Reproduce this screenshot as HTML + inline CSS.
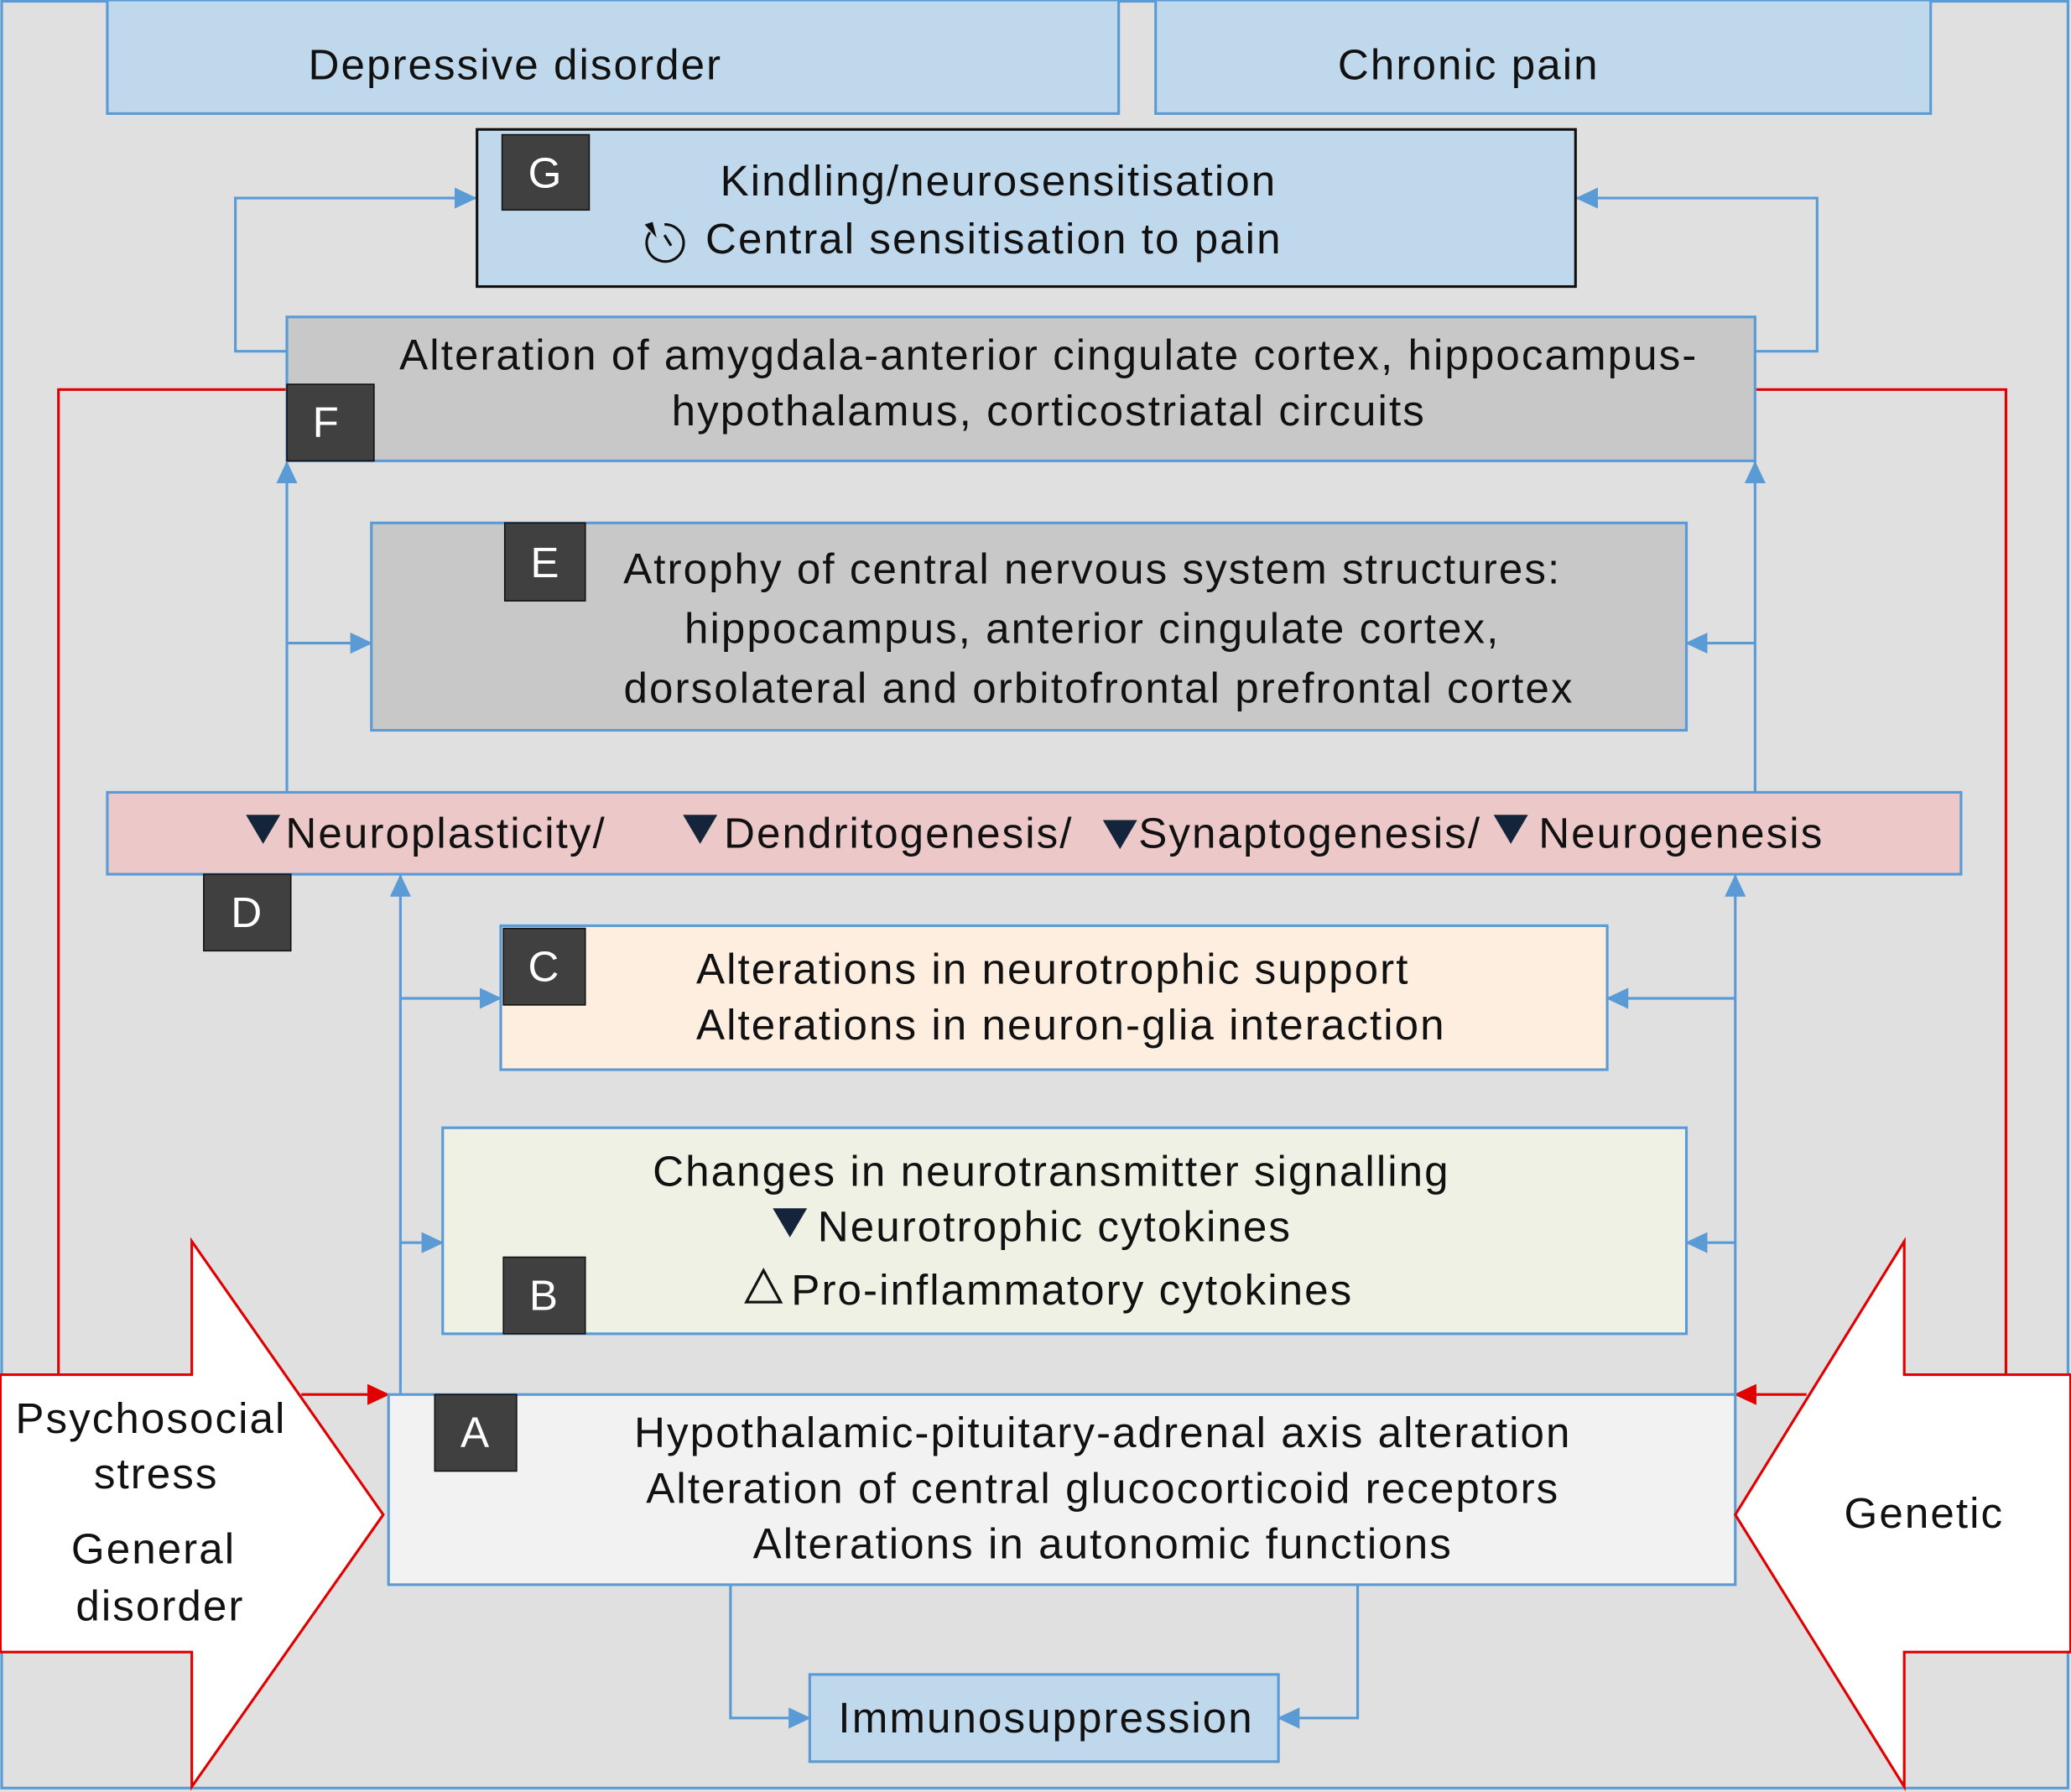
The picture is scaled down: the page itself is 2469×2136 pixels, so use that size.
<!DOCTYPE html>
<html><head><meta charset="utf-8"><style>html,body{margin:0;padding:0;background:#e0e0e0}svg{display:block}</style></head>
<body>
<svg width="2469" height="2136" viewBox="0 0 1568 1357" xmlns="http://www.w3.org/2000/svg" font-family="Liberation Sans, sans-serif" font-size="32.5" letter-spacing="1.3" fill="#111">
<defs>
<marker id="ab" markerWidth="17" markerHeight="16" refX="16" refY="8" orient="auto" markerUnits="userSpaceOnUse" viewBox="0 0 17 16"><path d="M0,0 L17,8 L0,16 z" fill="#5b9bd5"/></marker>
<marker id="ar" markerWidth="17" markerHeight="16" refX="16" refY="8" orient="auto" markerUnits="userSpaceOnUse" viewBox="0 0 17 16"><path d="M0,0 L17,8 L0,16 z" fill="#e00000"/></marker>
</defs>
<rect x="1" y="1" width="1565" height="1353" fill="#e0e0e0" stroke="#5b9bd5" stroke-width="2"/>
<rect x="81" y="0" width="766" height="86" fill="#c0d8ec" stroke="#5b9bd5" stroke-width="2"/>
<text x="390" y="60" text-anchor="middle">Depressive disorder</text>
<rect x="875" y="0" width="587" height="86" fill="#c0d8ec" stroke="#5b9bd5" stroke-width="2"/>
<text x="1112" y="60" text-anchor="middle">Chronic pain</text>
<g stroke="#5b9bd5" stroke-width="2" fill="none">
<polyline points="217,266 178,266 178,150 360,150" marker-end="url(#ab)"/>
<polyline points="1329,266 1376,266 1376,150 1194,150" marker-end="url(#ab)"/>
<line x1="217" y1="600" x2="217" y2="350" marker-end="url(#ab)"/>
<line x1="217" y1="487" x2="281" y2="487" marker-end="url(#ab)"/>
<line x1="1329" y1="600" x2="1329" y2="350" marker-end="url(#ab)"/>
<line x1="1329" y1="487" x2="1277" y2="487" marker-end="url(#ab)"/>
<line x1="303" y1="1056" x2="303" y2="663" marker-end="url(#ab)"/>
<line x1="303" y1="756" x2="379" y2="756" marker-end="url(#ab)"/>
<line x1="303" y1="941" x2="335" y2="941" marker-end="url(#ab)"/>
<line x1="1314" y1="1056" x2="1314" y2="663" marker-end="url(#ab)"/>
<line x1="1314" y1="756" x2="1217" y2="756" marker-end="url(#ab)"/>
<line x1="1314" y1="941" x2="1277" y2="941" marker-end="url(#ab)"/>
<polyline points="553,1200 553,1301 613,1301" marker-end="url(#ab)"/>
<polyline points="1028,1200 1028,1301 968,1301" marker-end="url(#ab)"/>
</g>
<g stroke="#e00000" stroke-width="2" fill="none">
<polyline points="44,1041 44,295 217,295"/>
<polyline points="1519,1041 1519,295 1329,295"/>
<line x1="228" y1="1056" x2="294" y2="1056" marker-end="url(#ar)"/>
<line x1="1368" y1="1056" x2="1314" y2="1056" marker-end="url(#ar)"/>
</g>
<rect x="361" y="98" width="832" height="119" fill="#c0d8ec" stroke="#111" stroke-width="2"/>
<rect x="380" y="102" width="66" height="57" fill="#404040" stroke="#111"/>
<text x="413" y="142" text-anchor="middle" fill="#fff">G</text>
<text x="756" y="148" text-anchor="middle">Kindling/neurosensitisation</text>
<text x="534" y="192">Central sensitisation to pain</text>
<path d="M492,176 A14,14 0 1 0 503,170" fill="none" stroke="#111" stroke-width="2"/>
<path d="M488,170 L497,180 L494,168 z" fill="#111"/>
<line x1="503" y1="178" x2="508" y2="186" stroke="#111" stroke-width="2"/>
<rect x="217" y="240" width="1112" height="109" fill="#c8c8c8" stroke="#5b9bd5" stroke-width="2"/>
<rect x="217" y="291" width="66" height="58" fill="#404040" stroke="#111"/>
<text x="247" y="331" text-anchor="middle" fill="#fff">F</text>
<text x="794" y="280" text-anchor="middle">Alteration of amygdala-anterior cingulate cortex, hippocampus-</text>
<text x="794" y="322" text-anchor="middle">hypothalamus, corticostriatal circuits</text>
<rect x="281" y="396" width="996" height="157" fill="#c8c8c8" stroke="#5b9bd5" stroke-width="2"/>
<rect x="382" y="396" width="61" height="59" fill="#404040" stroke="#111"/>
<text x="413" y="437" text-anchor="middle" fill="#fff">E</text>
<text x="827" y="442" text-anchor="middle">Atrophy of central nervous system structures:</text>
<text x="827" y="487" text-anchor="middle">hippocampus, anterior cingulate cortex,</text>
<text x="832" y="532" text-anchor="middle">dorsolateral and orbitofrontal prefrontal cortex</text>
<rect x="81" y="600" width="1404" height="62" fill="#ecc8c8" stroke="#5b9bd5" stroke-width="2"/>
<g fill="#14243a">
<polygon points="186,617 212,617 199,639"/>
<polygon points="517,617 543,617 530,639"/>
<polygon points="835,621 861,621 848,643"/>
<polygon points="1131,617 1157,617 1144,639"/>
</g>
<text x="216" y="642">Neuroplasticity/</text>
<text x="548" y="642">Dendritogenesis/</text>
<text x="862" y="642">Synaptogenesis/</text>
<text x="1165" y="642">Neurogenesis</text>
<rect x="154" y="662" width="66" height="58" fill="#404040" stroke="#111"/>
<text x="187" y="702" text-anchor="middle" fill="#fff">D</text>
<rect x="379" y="701" width="838" height="109" fill="#fdeee0" stroke="#5b9bd5" stroke-width="2"/>
<rect x="381" y="703" width="62" height="58" fill="#404040" stroke="#111"/>
<text x="412" y="743" text-anchor="middle" fill="#fff">C</text>
<text x="527" y="745">Alterations in neurotrophic support</text>
<text x="527" y="787">Alterations in neuron-glia interaction</text>
<rect x="335" y="854" width="942" height="156" fill="#eff1e4" stroke="#5b9bd5" stroke-width="2"/>
<rect x="381" y="952" width="62" height="58" fill="#404040" stroke="#111"/>
<text x="412" y="992" text-anchor="middle" fill="#fff">B</text>
<text x="796" y="898" text-anchor="middle">Changes in neurotransmitter signalling</text>
<polygon points="585,915 611,915 598,937" fill="#14243a"/>
<text x="619" y="940">Neurotrophic cytokines</text>
<polygon points="565,986 591,986 578,962" fill="none" stroke="#111" stroke-width="2"/>
<text x="599" y="988">Pro-inflammatory cytokines</text>
<rect x="294" y="1056" width="1020" height="144" fill="#f2f2f2" stroke="#5b9bd5" stroke-width="2"/>
<rect x="329" y="1056" width="62" height="58" fill="#404040" stroke="#111"/>
<text x="360" y="1096" text-anchor="middle" fill="#fff">A</text>
<text x="835" y="1096" text-anchor="middle">Hypothalamic-pituitary-adrenal axis alteration</text>
<text x="835" y="1138" text-anchor="middle">Alteration of central glucocorticoid receptors</text>
<text x="835" y="1180" text-anchor="middle">Alterations in autonomic functions</text>
<rect x="613" y="1268" width="355" height="66" fill="#c0d8ec" stroke="#5b9bd5" stroke-width="2"/>
<text x="792" y="1312" text-anchor="middle">Immunosuppression</text>
<polygon points="0,1041 145,1041 145,940 290,1147 145,1353 145,1251 0,1251" fill="#fff" stroke="#e00000" stroke-width="2"/>
<text x="114" y="1085" text-anchor="middle">Psychosocial</text>
<text x="118" y="1127" text-anchor="middle">stress</text>
<text x="116" y="1184" text-anchor="middle">General</text>
<text x="121" y="1227" text-anchor="middle">disorder</text>
<polygon points="1568,1041 1442,1041 1442,940 1314,1147 1442,1353 1442,1251 1568,1251" fill="#fff" stroke="#e00000" stroke-width="2"/>
<text x="1457" y="1157" text-anchor="middle">Genetic</text>
</svg>
</body></html>
